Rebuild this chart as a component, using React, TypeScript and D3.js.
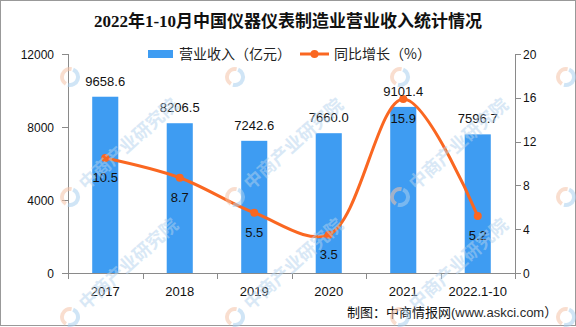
import React from "react";
import * as d3 from "d3";

const categories = ["2017", "2018", "2019", "2020", "2021", "2022.1-10"];
const revenue = [9658.6, 8206.5, 7242.6, 7660.0, 9101.4, 7596.7];
const growth = [10.5, 8.7, 5.5, 3.5, 15.9, 5.2];
const leftTicks = [0, 4000, 8000, 12000];
const rightTicks = [0, 4, 8, 12, 16, 20];

const W = 576;
const H = 327;
const BLUE = "#3e9cf2";
const ORANGE = "#fa6721";
const AXIS = "#8a8a8a";
const NUM_FONT = "'Liberation Sans', Arial, sans-serif";
const CJK_FONT = "'Noto Sans CJK SC', sans-serif";

const wmCols = [-95, 70, 235, 400, 566];
const wmRows = [-43, 77, 197, 317];
const wmTextCols = [70, 235, 400];
const wmTextRows = [197, 317];

export default function App() {
  const left = 68;
  const right = 515;
  const top = 54;
  const bottom = 273;

  const x = d3.scaleBand<string>().domain(categories).range([left, right]).paddingInner(0.65).paddingOuter(0.325);
  const yL = d3.scaleLinear().domain([0, 12000]).range([bottom, top]);
  const yR = d3.scaleLinear().domain([0, 20]).range([bottom, top]);
  const cx = (c: string) => (x(c) as number) + x.bandwidth() / 2;

  const line = d3
    .line<number>()
    .x((_, i) => cx(categories[i]))
    .y((d) => yR(d))
    .curve(d3.curveCatmullRom.alpha(0.5));

  const step = x.step();
  const xTickPos = d3.range(categories.length + 1).map((i) => left + i * step);

  return (
    <svg width={W} height={H} style={{ position: "absolute", left: 0, top: 0, background: "#fff" }}>
      <rect x={0.5} y={0.5} width={W - 1} height={H - 2} fill="#fff" stroke="#999" />
      <text x={288} y={27} textAnchor="middle" fontSize={17} fontWeight="bold" fontFamily={`'Liberation Serif', ${CJK_FONT}`} fill="#111">
        2022年1-10月中国仪器仪表制造业营业收入统计情况
      </text>

      {/* legend */}
      <rect x={148} y={50} width={25} height={8} fill={BLUE} />
      <text x={179} y={59} fontSize={14} fontFamily={CJK_FONT} fill="#222">营业收入（亿元）</text>
      <line x1={300} x2={329} y1={54} y2={54} stroke={ORANGE} strokeWidth={3} />
      <circle cx={314.5} cy={54} r={4} fill={ORANGE} />
      <text x={334} y={59} fontSize={14} fontFamily={CJK_FONT} fill="#222">同比增长（%）</text>

      {/* bars */}
      {categories.map((c, i) => (
        <rect key={c} x={x(c)} y={yL(revenue[i])} width={x.bandwidth()} height={bottom - yL(revenue[i])} fill={BLUE} />
      ))}

      {/* axes */}
      <g stroke={AXIS} strokeWidth={1} fill="none">
        <line x1={left + 0.5} x2={left + 0.5} y1={top} y2={bottom + 6} />
        <line x1={right + 0.5} x2={right + 0.5} y1={top} y2={bottom + 6} />
        <line x1={left} x2={right} y1={bottom + 0.5} y2={bottom + 0.5} />
        {leftTicks.map((t) => (
          <line key={"l" + t} x1={left - 6} x2={left} y1={Math.round(yL(t)) + 0.5} y2={Math.round(yL(t)) + 0.5} />
        ))}
        {rightTicks.map((t) => (
          <line key={"r" + t} x1={right} x2={right + 6} y1={Math.round(yR(t)) + 0.5} y2={Math.round(yR(t)) + 0.5} />
        ))}
        {xTickPos.map((p, i) => (
          <line key={"x" + i} x1={Math.round(p) + 0.5} x2={Math.round(p) + 0.5} y1={bottom} y2={bottom + 6} />
        ))}
      </g>
      {leftTicks.map((t) => (
        <text key={"lt" + t} x={54} y={yL(t) + 4.5} textAnchor="end" fontSize={12} fontFamily={NUM_FONT} fill="#111">
          {t}
        </text>
      ))}
      {rightTicks.map((t) => (
        <text key={"rt" + t} x={523} y={yR(t) + 4.5} fontSize={12} fontFamily={NUM_FONT} fill="#111">
          {t}
        </text>
      ))}
      {categories.map((c) => (
        <text key={"xt" + c} x={cx(c)} y={296} textAnchor="middle" fontSize={13} fontFamily={NUM_FONT} fill="#111">
          {c}
        </text>
      ))}

      {/* line */}
      <path d={line(growth) || ""} fill="none" stroke={ORANGE} strokeWidth={3} />
      {growth.map((g, i) => (
        <circle key={"p" + i} cx={cx(categories[i])} cy={yR(g)} r={4} fill={ORANGE} />
      ))}

      {/* labels */}
      {categories.map((c, i) => (
        <text key={"bv" + c} x={cx(c)} y={yL(revenue[i]) - 11} textAnchor="middle" fontSize={13} fontFamily={NUM_FONT} fill="#111">
          {revenue[i].toFixed(1)}
        </text>
      ))}
      {categories.map((c, i) => (
        <text key={"gv" + c} x={cx(c)} y={yR(growth[i]) + 24} textAnchor="middle" fontSize={13} fontFamily={NUM_FONT} fill="#111">
          {growth[i].toFixed(1)}
        </text>
      ))}

      {/* footer */}
      <text x={347} y={317} fontSize={13} fontFamily={CJK_FONT} fill="#111">
        制图：中商情报网<tspan fontFamily={NUM_FONT} fill="#2a2a2a">(www.askci.com</tspan>）
      </text>

      {/* watermarks */}
      <g pointerEvents="none">
        {wmRows.map((ry) =>
          wmCols.map((rx) => (
            <g key={`w${rx}_${ry}`} transform={`translate(${rx},${ry})`}>
              <path d={d3.arc()({ innerRadius: 6, outerRadius: 10, startAngle: -2.6, endAngle: 0.2 }) || ""} fill="#f4c2a8" opacity={0.55} />
              <path d={d3.arc()({ innerRadius: 6, outerRadius: 10, startAngle: 0.4, endAngle: 3.4 }) || ""} fill="#a9cfee" opacity={0.55} />
            </g>
          ))
        )}
        {wmTextRows.map((ry) =>
          wmTextCols.map((rx) => (
            <text
              key={`wt${rx}_${ry}`}
              x={16}
              y={6}
              transform={`translate(${rx},${ry}) rotate(-42)`}
              fontSize={18}
              fontWeight="bold"
              fontFamily={CJK_FONT}
              fill="#b4d3ee"
              opacity={0.5}
            >
              中商产业研究院
            </text>
          ))
        )}
      </g>
    </svg>
  );
}
